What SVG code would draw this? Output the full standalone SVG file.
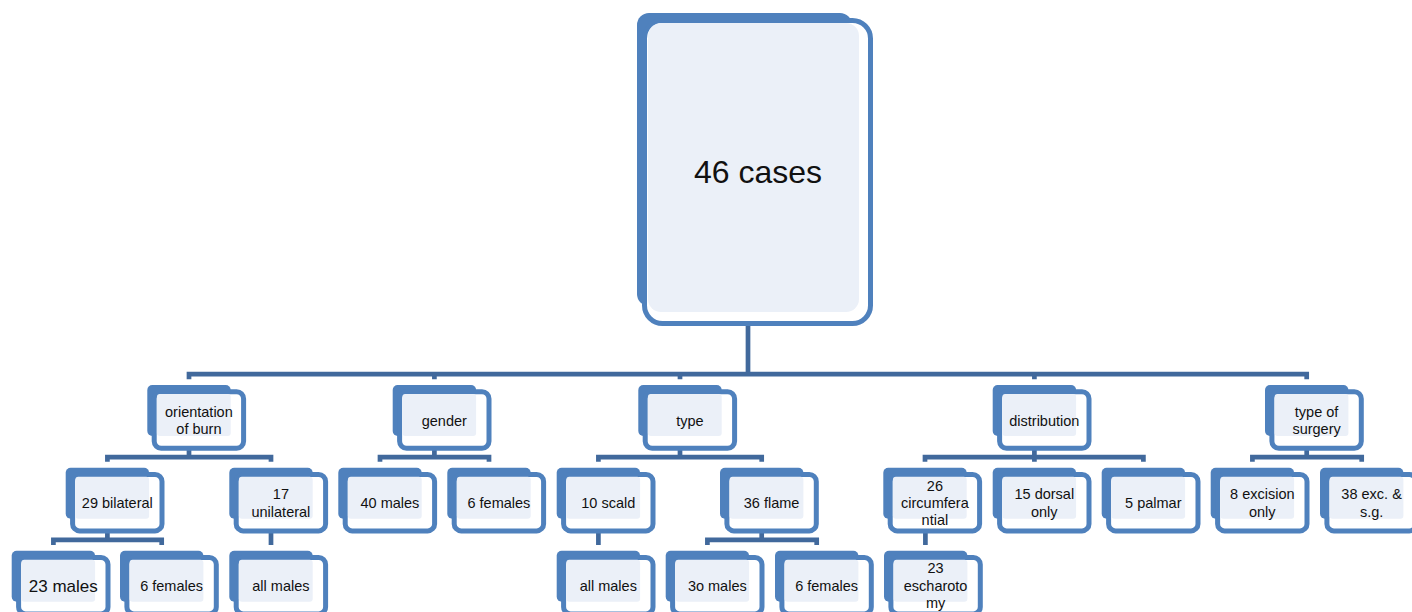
<svg xmlns="http://www.w3.org/2000/svg" xmlns:xlink="http://www.w3.org/1999/xlink" width="1412" height="612" viewBox="0 0 1412 612">
<style>
.bk{fill:#4F81BD}
.fr{fill:#FFFFFF;stroke:#4F81BD;stroke-width:5}
.in{fill:#EBF0F8}
.t{font-family:"Liberation Sans",Arial,sans-serif;font-size:14.5px;text-anchor:middle;fill:#111111}
.big{font-size:32px}
.lg{font-size:17px}
.cn{fill:none;stroke:#41699C;stroke-width:4.7;stroke-linejoin:miter}
</style>
<defs>
<g id="box">
<rect class="bk" x="0" y="0" width="83.4" height="51" rx="5"/>
<rect class="fr" x="6.9" y="6.8" width="89.4" height="56.4" rx="7"/>
<rect class="in" x="9.6" y="9" width="73.8" height="42" rx="3"/>
</g>
</defs>
<rect x="0" y="0" width="1412" height="612" fill="#FFFFFF"/>
<g id="connectors">
<path class="cn" d="M748,318 V374.2"/>
<path class="cn" d="M189,379.3 V374.2 H1306.7 V379.3"/>
<path class="cn" d="M434.4,374.2 V379.3 M680,374.2 V379.3 M1034.4,374.2 V379.3"/>
<path class="cn" d="M107.4,461.7 V457.2 H271 V461.7 M189,448 V457.2"/>
<path class="cn" d="M380,461.7 V457.2 H489 V461.7 M434.4,448 V457.2"/>
<path class="cn" d="M598.4,461.7 V457.2 H761.7 V461.7 M680,448 V457.2"/>
<path class="cn" d="M925,461.7 V457.2 H1143.4 V461.7 M1034.4,448 V461.7"/>
<path class="cn" d="M1252.4,461.7 V457.2 H1361.7 V461.7 M1306.7,448 V457.2"/>
<path class="cn" d="M53.4,545 V539.8 H161.7 V545 M107.4,531 V539.8"/>
<path class="cn" d="M271,531 V545"/>
<path class="cn" d="M598.4,531 V545"/>
<path class="cn" d="M707.4,545 V539.8 H816.7 V545 M761.7,531 V539.8"/>
<path class="cn" d="M925.4,531 V545"/>
</g>
<g id="n-root">
<rect class="bk" x="637" y="13" width="215" height="293" rx="12"/>
<rect class="fr" x="644.5" y="20.5" width="226" height="303" rx="18"/>
<rect class="in" x="648" y="23" width="211" height="289" rx="13"/>
<text class="t big" x="758" y="183">46 cases</text>
</g>
<g id="n-orientation"><use xlink:href="#box" x="147.3" y="385"/><text class="t" x="198.9" y="416.5">orientation</text><text class="t" x="198.9" y="433.5">of burn</text></g>
<g id="n-gender"><use xlink:href="#box" x="392.7" y="385"/><text class="t" x="444.3" y="425.5">gender</text></g>
<g id="n-type"><use xlink:href="#box" x="638.3" y="385"/><text class="t" x="689.9" y="425.5">type</text></g>
<g id="n-distribution"><use xlink:href="#box" x="992.7" y="385"/><text class="t" x="1044.3" y="425.5">distribution</text></g>
<g id="n-surgery"><use xlink:href="#box" x="1265" y="385"/><text class="t" x="1316.6" y="416.5">type of</text><text class="t" x="1316.6" y="433.5">surgery</text></g>
<g id="n-bilateral"><use xlink:href="#box" x="65.7" y="467.7"/><text class="t" x="117.3" y="508">29 bilateral</text></g>
<g id="n-unilateral"><use xlink:href="#box" x="229.3" y="467.7"/><text class="t" x="280.9" y="499.3">17</text><text class="t" x="280.9" y="516.6">unilateral</text></g>
<g id="n-40males"><use xlink:href="#box" x="338.3" y="467.7"/><text class="t" x="389.9" y="508">40 males</text></g>
<g id="n-6females-g"><use xlink:href="#box" x="447.3" y="467.7"/><text class="t" x="498.9" y="508">6 females</text></g>
<g id="n-scald"><use xlink:href="#box" x="556.7" y="467.7"/><text class="t" x="608.3" y="508">10 scald</text></g>
<g id="n-flame"><use xlink:href="#box" x="720" y="467.7"/><text class="t" x="771.6" y="508">36 flame</text></g>
<g id="n-circ"><use xlink:href="#box" x="883.3" y="467.7"/><text class="t" x="934.9" y="490.7">26</text><text class="t" x="934.9" y="508">circumfera</text><text class="t" x="934.9" y="525.3">ntial</text></g>
<g id="n-dorsal"><use xlink:href="#box" x="992.7" y="467.7"/><text class="t" x="1044.3" y="499.3">15 dorsal</text><text class="t" x="1044.3" y="516.6">only</text></g>
<g id="n-palmar"><use xlink:href="#box" x="1101.7" y="467.7"/><text class="t" x="1153.3" y="508">5 palmar</text></g>
<g id="n-excision"><use xlink:href="#box" x="1210.7" y="467.7"/><text class="t" x="1262.3" y="499.3">8 excision</text><text class="t" x="1262.3" y="516.6">only</text></g>
<g id="n-excsg"><use xlink:href="#box" x="1320" y="467.7"/><text class="t" x="1371.6" y="499.3">38 exc. &amp;</text><text class="t" x="1371.6" y="516.6">s.g.</text></g>
<g id="n-23males"><use xlink:href="#box" x="11.7" y="550.7"/><text class="t lg" x="63.3" y="591.5">23 males</text></g>
<g id="n-6females-b"><use xlink:href="#box" x="120" y="550.7"/><text class="t" x="171.6" y="591">6 females</text></g>
<g id="n-allmales-u"><use xlink:href="#box" x="229.3" y="550.7"/><text class="t" x="280.9" y="591">all males</text></g>
<g id="n-allmales-s"><use xlink:href="#box" x="556.7" y="550.7"/><text class="t" x="608.3" y="591">all males</text></g>
<g id="n-30males"><use xlink:href="#box" x="665.7" y="550.7"/><text class="t" x="717.3" y="591">3o males</text></g>
<g id="n-6females-f"><use xlink:href="#box" x="775" y="550.7"/><text class="t" x="826.6" y="591">6 females</text></g>
<g id="n-escharotomy"><use xlink:href="#box" x="884" y="550.7"/><text class="t" x="935.6" y="573.4">23</text><text class="t" x="935.6" y="590.7">escharoto</text><text class="t" x="935.6" y="608">my</text></g>
</svg>
